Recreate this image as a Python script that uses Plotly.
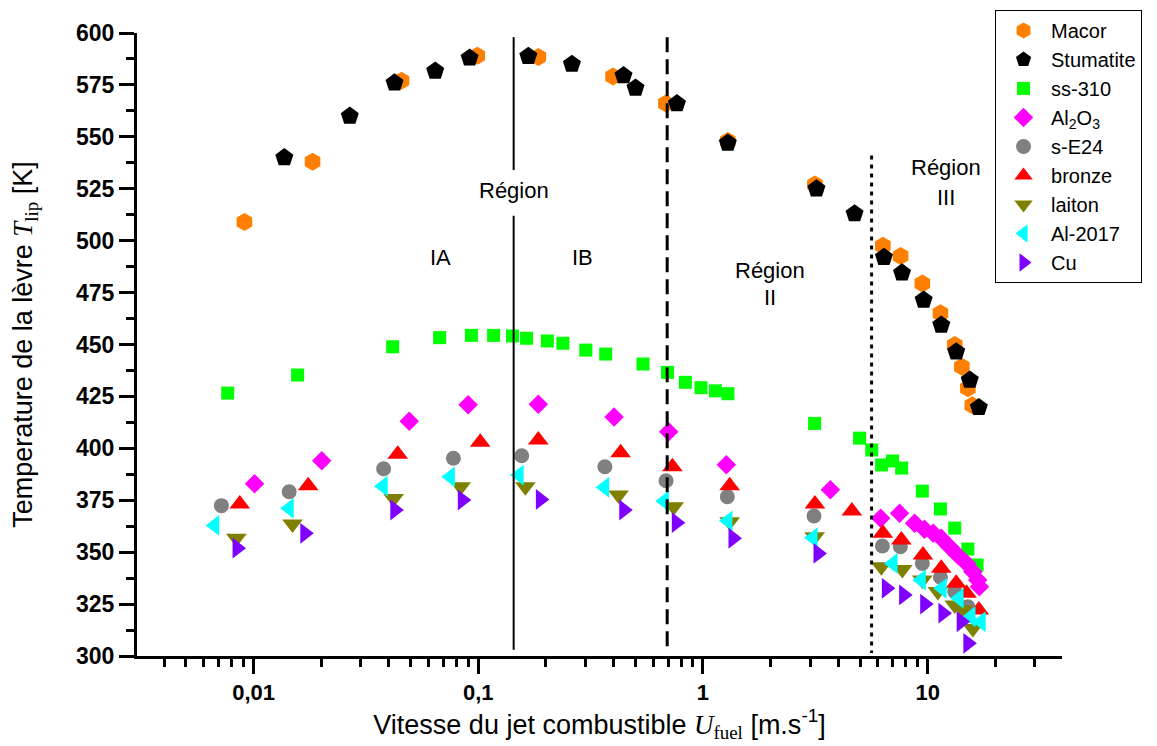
import numpy as np
import plotly.graph_objects as go

# ---------------- data ----------------
macor_x = [0.0091, 0.0183, 0.0455, 0.099, 0.185, 0.398, 0.684, 1.29, 3.15,
           6.32, 7.58, 9.47, 11.4, 13.2, 14.2, 15.1, 15.8]
macor_T = [509, 538, 577, 589, 588.5, 579, 566, 548, 527,
           497.5, 492.6, 479.4, 465, 449.7, 439.3, 428.9, 420.8]

stum_x = [0.0137, 0.0268, 0.0424, 0.0643, 0.0915, 0.167, 0.261, 0.443, 0.501, 0.766,
          1.29, 3.2, 4.73, 6.39, 7.69, 9.6, 11.5, 13.4, 15.4, 16.9]
stum_T = [540, 560, 576, 581.7, 588, 588.8, 585, 579.5, 573.5, 566,
          547, 525, 513, 492, 484.5, 471.4, 459.4, 446.5, 432.9, 419.7]

ss310_x = [0.00767, 0.0157, 0.0416, 0.0673, 0.0932, 0.117, 0.142, 0.164, 0.203, 0.238,
           0.301, 0.369, 0.541, 0.695, 0.835, 0.98, 1.136, 1.292, 3.14, 4.98,
           5.64, 6.24, 6.98, 7.66, 9.47, 11.4, 13.2, 15.1, 16.6]
ss310_T = [426.6, 435.3, 448.9, 453.3, 454.4, 454.4, 454.1, 453, 451.7, 450.6,
           447.3, 445.4, 440.6, 436.6, 431.8, 429.2, 427.7, 426.3, 412, 404.9,
           399.2, 392, 393.9, 390.5, 379.4, 370.8, 361.6, 351.5, 343.8]

al2o3_x = [0.0101, 0.0201, 0.0493, 0.0901, 0.185, 0.402, 0.704, 1.27, 3.69,
           6.18, 7.5, 8.75, 9.68, 10.6, 11.5, 12.5, 13.6, 14.9, 15.9, 16.7, 17.0]
al2o3_T = [383, 394, 413, 421, 421.2, 415.1, 408, 392.1, 380.1,
           366.3, 368.7, 363.9, 361, 359.1, 356.7, 352.6, 348.6, 344.6, 340.6, 336.6, 333.4]

se24_x = [0.00719, 0.0144, 0.0379, 0.0775, 0.156, 0.366, 0.685, 1.284, 3.12,
          6.29, 7.56, 9.47, 11.4, 13.2, 15.1]
se24_T = [372.4, 379.1, 390.2, 395.2, 396.4, 391.1, 384.4, 376.7, 367.4,
          353, 352.6, 344.6, 337.9, 331, 323.7]

bronze_x = [0.00868, 0.0175, 0.0438, 0.102, 0.185, 0.43, 0.731, 1.315, 3.15, 4.6,
            6.32, 7.64, 9.53, 11.5, 13.4, 14.9, 16.9]
bronze_T = [373.2, 382, 397.1, 402.9, 404, 397.9, 391.1, 382, 373.2, 369.8,
            359.1, 355.9, 348.6, 342.2, 335, 330.2, 322.1]

laiton_x = [0.00838, 0.0149, 0.042, 0.0835, 0.162, 0.421, 0.741, 1.315, 3.14,
            6.22, 7.71, 9.47, 11.1, 13.2, 14.3, 15.9]
laiton_T = [356.7, 363.6, 375.9, 381.5, 381.5, 377.5, 371.9, 364.7, 357.4,
            343, 341.7, 336.6, 331, 324.6, 322.1, 313.3]

al2017_x = [0.00671, 0.0144, 0.0377, 0.0751, 0.152, 0.365, 0.673, 1.292, 3.09,
            7.01, 9.37, 11.6, 13.8, 15.6, 17.3]
al2017_T = [362.9, 371.1, 381.8, 386.3, 387.1, 381.2, 374.6, 365.1, 357,
            344.6, 336.6, 332.6, 327.8, 318.9, 316.5]

cu_x = [0.00844, 0.0169, 0.0425, 0.0849, 0.189, 0.444, 0.761, 1.36, 3.25,
        6.55, 7.82, 9.7, 11.7, 14.1, 15.1]
cu_T = [351.9, 359.1, 370.3, 375.1, 375.4, 370.3, 364.2, 356.7, 349.4,
        332.6, 329.4, 325, 320.6, 316.5, 306.1]

# region boundaries (fuel velocity, m/s)
boundary_IA_IB = 0.1437
boundary_I_II = 0.693
boundary_II_III = 5.63

x_tick_vals = [0.01, 0.1, 1, 10]
x_tick_text = ["0,01", "0,1", "1", "10"]

# ---------------- figure ----------------
FONT = "Liberation Sans, Arial, sans-serif"

series = [
    ("Macor", macor_x, macor_T, "hexagon", "#FF8000", 18),
    ("Stumatite", stum_x, stum_T, "pentagon", "#000000", 19),
    ("ss-310", ss310_x, ss310_T, "square", "#00FF00", 13),
    ("Al<sub>2</sub>O<sub>3</sub>", al2o3_x, al2o3_T, "diamond", "#FF00FF", 15),
    ("s-E24", se24_x, se24_T, "circle", "#808080", 15),
    ("bronze", bronze_x, bronze_T, "triangle-up", "#FF0000", 18),
    ("laiton", laiton_x, laiton_T, "triangle-down", "#808000", 18),
    ("Al-2017", al2017_x, al2017_T, "triangle-left", "#00FFFF", 18),
    ("Cu", cu_x, cu_T, "triangle-right", "#8000FF", 18),
]

fig = go.Figure()
for name, xs, ys, sym, col, sz in series:
    fig.add_trace(go.Scatter(
        x=xs, y=ys, mode="markers", name=name,
        marker=dict(symbol=sym, color=col, size=sz, line=dict(width=0)),
    ))

# vertical region lines
fig.add_trace(go.Scatter(x=[boundary_IA_IB] * 5, y=[598, 534, None, 512, 303],
                         mode="lines", line=dict(color="black", width=2),
                         showlegend=False, hoverinfo="skip"))
fig.add_trace(go.Scatter(x=[boundary_I_II] * 2, y=[598, 302],
                         mode="lines", line=dict(color="black", width=3, dash="15px,7px"),
                         showlegend=False, hoverinfo="skip"))
fig.add_trace(go.Scatter(x=[boundary_II_III] * 2, y=[541, 301.5],
                         mode="lines", line=dict(color="black", width=3, dash="4px,5px"),
                         showlegend=False, hoverinfo="skip"))

annots = [
    ("Région", boundary_IA_IB, 524.4),
    ("IA", 0.068, 492.1),
    ("IB", 0.292, 492.1),
    ("Région", 1.98, 485.8),
    ("II", 1.98, 472.4),
    ("Région", 12.1, 535.0),
    ("III", 12.1, 521.0),
]
for txt, ax_, ay_ in annots:
    fig.add_annotation(x=np.log10(ax_), y=ay_, xref="x", yref="y", text=txt,
                       showarrow=False, font=dict(family=FONT, size=22, color="black"))

# minor tick positions for log axis
minor_vals = []
for dec in [0.001, 0.01, 0.1, 1, 10]:
    for k in range(2, 10):
        minor_vals.append(k * dec)

# the page body adds an 8 px offset, so the figure is 8 px smaller on each side
fig.update_layout(
    width=1149, height=738,
    margin=dict(l=129, r=95, t=25, b=90, autoexpand=False),
    paper_bgcolor="white", plot_bgcolor="white",
    font=dict(family=FONT, color="black"),
    legend=dict(
        x=0.9276, y=1.037, xanchor="left", yanchor="top",
        bordercolor="black", borderwidth=1, bgcolor="white",
        font=dict(family=FONT, size=20, color="black"),
        itemsizing="trace", itemwidth=45,
    ),
    xaxis=dict(
        type="log", range=[-2.519, 1.598],
        showgrid=False, zeroline=False,
        showline=True, linecolor="black", linewidth=3,
        tickmode="array", tickvals=x_tick_vals, ticktext=x_tick_text,
        ticks="outside", ticklen=15, tickwidth=2.5, tickcolor="black",
        tickfont=dict(family=FONT, size=22, color="black", weight="bold"),
        minor=dict(tickmode="array", tickvals=minor_vals, ticks="outside",
                   ticklen=8, tickwidth=2.5, tickcolor="black", showgrid=False),
        title=dict(text="Vitesse du jet combustible <span style=\"font-family:Liberation Serif\"><i>U</i><sub>fuel</sub></span> [m.s<sup>-1</sup>]",
                   font=dict(family=FONT, size=27, color="black"), standoff=0),
    ),
    yaxis=dict(
        range=[300, 600],
        showgrid=False, zeroline=False,
        showline=True, linecolor="black", linewidth=3,
        tickmode="linear", tick0=300, dtick=25,
        ticks="outside", ticklen=15, tickwidth=2.5, tickcolor="black",
        tickfont=dict(family=FONT, size=23, color="black", weight="bold"),
        minor=dict(dtick=12.5, tick0=300, ticks="outside", ticklen=8,
                   tickwidth=2.5, tickcolor="black", showgrid=False),
        title=dict(text="Temperature de la lèvre <span style=\"font-family:Liberation Serif\"><i>T</i><sub>lip</sub></span> [K]",
                   font=dict(family=FONT, size=27, color="black"), standoff=36),
    ),
)

fig.write_html("out.html")
